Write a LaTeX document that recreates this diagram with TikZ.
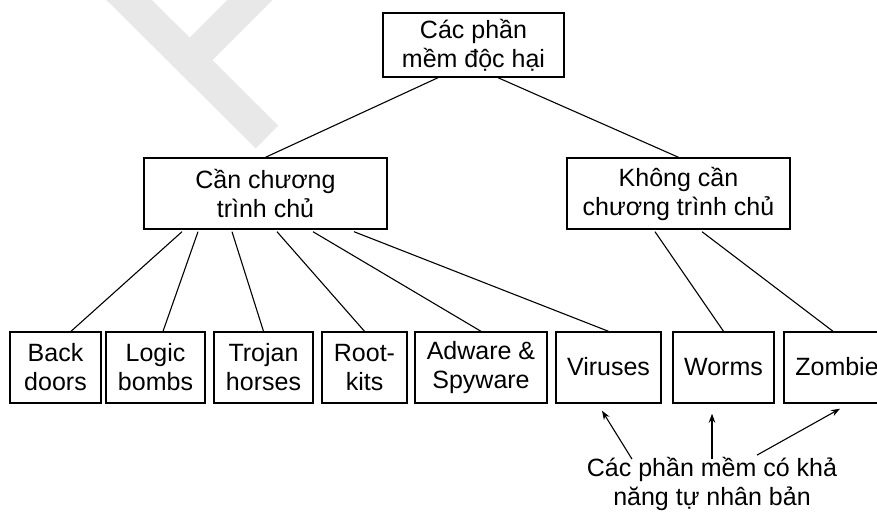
\documentclass[tikz,border=0pt]{standalone}
\usepackage{fontspec}
\setmainfont{Liberation Sans}
\usetikzlibrary{arrows.meta}
\definecolor{wmark}{RGB}{232,232,232}

\tikzset{
  box/.style={draw,line width=1.4pt,inner sep=0pt,align=center,minimum height=71pt},
  oneline/.style={text height=20pt,text depth=5pt},
  link/.style={line width=1.1pt},
  pointer/.style={line width=1.1pt,-{Stealth[length=9pt,width=6.5pt]}}
}

\begin{document}
\begin{tikzpicture}[x=1pt,y=-1pt,font=\fontsize{25}{29}\selectfont]

  \clip (0,0) rectangle (877,515);
  \fill[white] (0,0) rectangle (877,515);

  % watermark
  \draw[wmark,line width=32pt] (100,-29) -- (267,137);
  \draw[wmark,line width=32pt] (290,-40) -- (185,65);

  \node[box,minimum width=181pt,minimum height=64pt] (root)   at (473.5,45)  {Các phần\\mềm độc hại};
  \node[box,minimum width=243pt] (host)   at (265.5,193.5) {Cần chương\\trình chủ};
  \node[box,minimum width=223pt] (nohost) at (678.5,193.5) {Không cần\\chương trình chủ};

  \node[box,minimum width=91pt]  (backdoor) at (55.5,367.5)  {Back\\doors};
  \node[box,minimum width=99pt]  (logic)    at (155.5,367.5) {Logic\\bombs};
  \node[box,minimum width=99pt]  (trojan)   at (263.5,367.5) {Trojan\\horses};
  \node[box,minimum width=85pt]  (rootkit)  at (364.5,367.5) {Root-\\kits};
  \node[box,minimum width=132pt] (adware)   at (481,367.5)   {Adware \&\\Spyware};
  \node[box,oneline,minimum width=105pt] (virus)  at (608.5,367.5) {Viruses};
  \node[box,oneline,minimum width=101pt] (worm)   at (723.5,367.5) {Worms};
  \node[box,oneline,minimum width=106pt] (zombie) at (837,367.5)   {Zombie};

  \node[align=center,inner sep=0pt] (note) at (712,484) {Các phần mềm có khả\\năng tự nhân bản};

  \draw[link] ([xshift=-35.5pt]root.south) -- (host.north);
  \draw[link] ([xshift=24.5pt]root.south)  -- (nohost.north);

  \draw[link] ([xshift=-83.5pt,yshift=-2pt]host.south) -- ([xshift=15.5pt]backdoor.north);
  \draw[link] ([xshift=-67.5pt,yshift=-2pt]host.south) -- ([xshift=7.5pt]logic.north);
  \draw[link] ([xshift=-33.5pt,yshift=-2pt]host.south) -- (trojan.north);
  \draw[link] ([xshift=11.5pt,yshift=-2pt]host.south)  -- (rootkit.north);
  \draw[link] ([xshift=47.5pt,yshift=-2pt]host.south)  -- (adware.north);
  \draw[link] ([xshift=88.5pt,yshift=-2pt]host.south)  -- (virus.north);

  \draw[link] ([xshift=-23.5pt,yshift=-2pt]nohost.south) -- (worm.north);
  \draw[link] ([xshift=23.5pt,yshift=-2pt]nohost.south)  -- ([xshift=-4pt]zombie.north);

  \draw[pointer] ([xshift=-80pt,yshift=-2pt]note.north) -- ([xshift=-6.5pt,yshift=-7pt]virus.south);
  \draw[pointer] ([yshift=-2pt]note.north)             -- ([xshift=-11.5pt,yshift=-10pt]worm.south);
  \draw[pointer] ([xshift=45pt,yshift=2pt]note.north)  -- ([xshift=3pt,yshift=-5pt]zombie.south);

\end{tikzpicture}
\end{document}
